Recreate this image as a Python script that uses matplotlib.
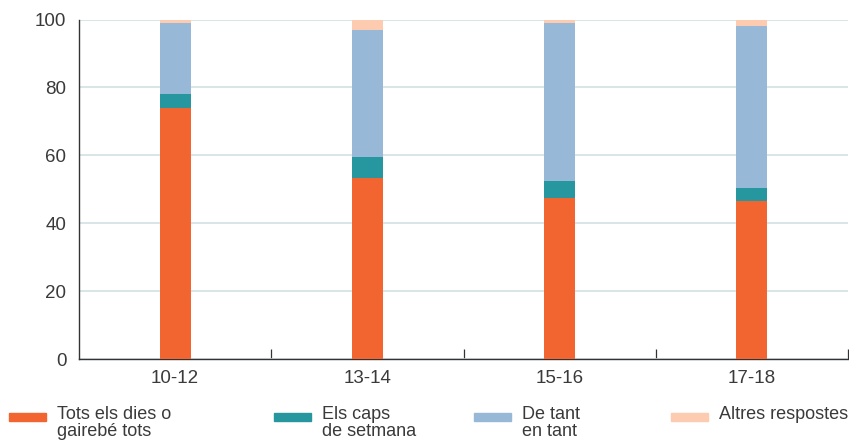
import matplotlib.pyplot as plt
import numpy as np
from matplotlib.patches import Rectangle

# data (percent)
age_groups = ['10-12', '13-14', '15-16', '17-18']
daily = [74, 53.5, 47.5, 46.5]
weekends = [4, 6, 5, 4]
sometimes = [21, 37.5, 46.5, 47.5]
others = [1, 3, 1, 2]

series_labels = ['Tots els dies o\ngairebé tots', 'Els caps\nde setmana',
                 'De tant\nen tant', 'Altres respostes']
colors = ['#f26531', '#26979e', '#97b8d6', '#fccbb0']

plt.rcParams['font.family'] = ['Liberation Sans', 'DejaVu Sans']
text_color = '#3a3a3a'

W, H = 849, 443
fig = plt.figure(figsize=(W / 100, H / 100), dpi=100)
ax = fig.add_axes([79 / W, 1 - 359.3 / H, (848 - 79) / W, (359.3 - 19.5) / H])

x = np.arange(len(age_groups))
bottom = np.zeros(len(age_groups))
for vals, col in zip([daily, weekends, sometimes, others], colors):
    ax.bar(x, vals, width=0.16, bottom=bottom, color=col, zorder=3)
    bottom += np.array(vals)

ax.set_xlim(-0.5, len(age_groups) - 0.5)
ax.set_ylim(0, 100)
ax.set_yticks(range(0, 101, 20))
ax.yaxis.grid(True, color='#d3e0e3', linewidth=1.2, zorder=0)
ax.set_axisbelow(True)

# category labels centred, ticks at the boundaries (incl. the right end)
ax.set_xticks(x)
ax.set_xticklabels(age_groups)
ax.set_xticks(x + 0.5, minor=True)
ax.tick_params(axis='x', which='major', length=0, pad=8, labelsize=13.5, labelcolor=text_color)
ax.tick_params(axis='x', which='minor', direction='in', length=7, color='#333333', width=0.9)
ax.tick_params(axis='y', length=0, pad=9, labelsize=13.5, labelcolor=text_color)

for s in ['top', 'right']:
    ax.spines[s].set_visible(False)
for s in ['left', 'bottom']:
    ax.spines[s].set_color('#333333')
    ax.spines[s].set_linewidth(1.0)

# legend laid out by hand to match the column positions
patch_x = [9, 274, 474, 671]
for px, col, lab in zip(patch_x, colors, series_labels):
    fig.add_artist(Rectangle((px / W, 1 - 421 / H), 37 / W, 8 / H,
                             transform=fig.transFigure, color=col))
    fig.text((px + 48) / W, 1 - 406 / H, lab, ha='left', va='top',
             fontsize=13, color=text_color, linespacing=1.02)

fig.savefig('out.png', dpi=100)
